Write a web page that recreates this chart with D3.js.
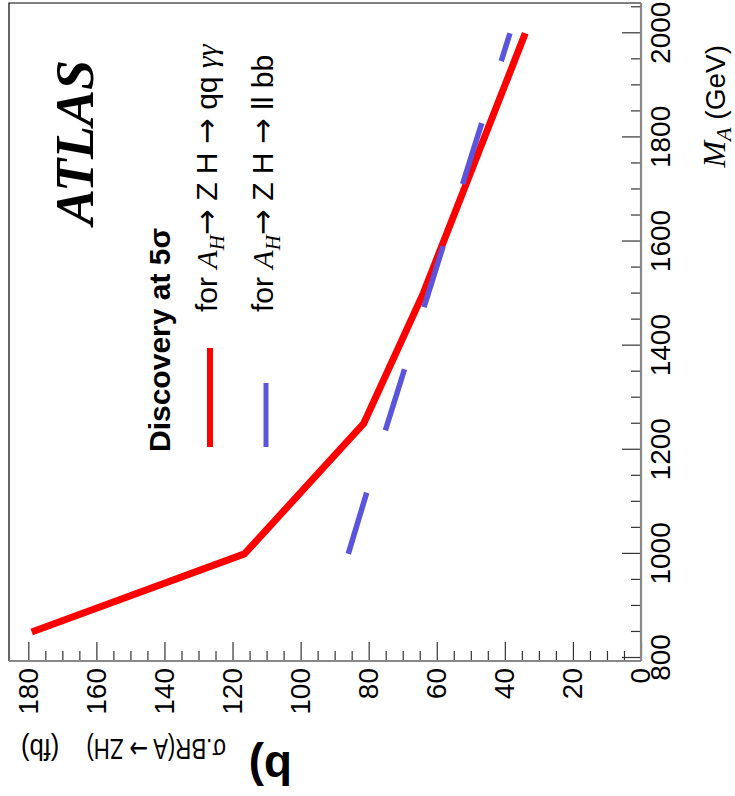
<!DOCTYPE html>
<html>
<head>
<meta charset="utf-8">
<script src="https://cdn.jsdelivr.net/npm/d3@7"></script>
<style>
  body { margin: 0; background: #fff; }
  text { font-family: "Liberation Sans", Arial, Helvetica, sans-serif; fill: #000; }
  .serif { font-family: "Liberation Serif", "Times New Roman", serif; }
  .arrow { font-family: "DejaVu Sans", sans-serif; }
</style>
</head>
<body>
<svg id="chart" width="735" height="796"></svg>
<script>
// A_H -> Z H -> q q gamma gamma : 5 sigma discovery reach (fb) vs M_A (GeV)
const massQQGG  = [850, 1000, 1250, 1500, 2000];
const sigmaQQGG = [179, 116.5, 81.5, 64, 34];

// A_H -> Z H -> l l b b : 5 sigma discovery reach (fb) vs M_A (GeV)
const massLLBB  = [1000, 1250, 1500, 1750, 2000];
const sigmaLLBB = [86, 74.5, 62.5, 50.5, 38.5];

// axis ticks
const massTicks       = [800, 1000, 1200, 1400, 1600, 1800, 2000];
const massMinorTicks  = [850, 900, 950, 1050, 1100, 1150, 1250, 1300, 1350, 1450, 1500, 1550,
                         1650, 1700, 1750, 1850, 1900, 1950, 2050];
const sigmaTicks      = [0, 20, 40, 60, 80, 100, 120, 140, 160, 180];
const sigmaMinorTicks = [5, 10, 15, 25, 30, 35, 45, 50, 55, 65, 70, 75, 85, 90, 95, 105, 110, 115,
                         125, 130, 135, 145, 150, 155, 165, 170, 175];

const seriesColors = ["#ff0000", "#5a55dc"];

// The plot is laid out as an ordinary x/y frame, then the whole frame is
// turned a quarter turn counter-clockwise (M_A runs upward along the right edge).
const W = 658, H = 632;
const x = d3.scaleLinear().domain([800, 2000]).range([3, 627.7]);
const y = d3.scaleLinear().domain([0, 180]).range([H, 19.3]);

const svg = d3.select("#chart");
const g = svg.append("g").attr("transform", "translate(9,661) rotate(-90)");

// frame (top/right sides of the unrotated frame)
g.append("path")
  .attr("d", `M0,0H${W}V${H}`)
  .attr("fill", "none").attr("stroke", "#000").attr("stroke-width", 1.2);

// M_A axis
g.append("g").attr("transform", `translate(0,${H})`)
  .call(d3.axisBottom(x).tickValues(massTicks).tickSizeInner(-19).tickSizeOuter(0)
        .tickPadding(9).tickFormat(d3.format("d")));
g.append("g").attr("transform", `translate(0,${H})`)
  .call(d3.axisBottom(x).tickValues(massMinorTicks).tickSizeInner(-10).tickSizeOuter(0).tickFormat(""))
  .select(".domain").remove();

// sigma axis
g.append("g")
  .call(d3.axisLeft(y).tickValues(sigmaTicks).tickSizeInner(-19).tickSizeOuter(0)
        .tickPadding(7).tickFormat(d3.format("d")));
g.append("g")
  .call(d3.axisLeft(y).tickValues(sigmaMinorTicks).tickSizeInner(-10).tickSizeOuter(0).tickFormat(""))
  .select(".domain").remove();

g.selectAll(".tick line").attr("stroke", "#333").attr("stroke-width", 1.2);
g.selectAll(".domain").remove();
g.append("path").attr("d", `M0,${H}H${W}`).attr("stroke", "#888").attr("stroke-width", 2.2);
g.append("path").attr("d", `M0,0V${H}`).attr("stroke", "#888").attr("stroke-width", 2.2);
g.selectAll(".tick text")
  .style("font-family", '"Liberation Sans", Arial, sans-serif')
  .style("font-size", "28px").attr("fill", "#000");

// curves
const line = d3.line().x(d => x(d[0])).y(d => y(d[1]));
g.append("path")
  .datum(d3.zip(massQQGG, sigmaQQGG))
  .attr("d", line)
  .attr("fill", "none").attr("stroke", seriesColors[0]).attr("stroke-width", 7)
  .attr("stroke-linejoin", "round");
g.append("path")
  .datum(d3.zip(massLLBB, sigmaLLBB))
  .attr("d", line)
  .attr("fill", "none").attr("stroke", seriesColors[1]).attr("stroke-width", 5.5)
  .attr("stroke-dasharray", "64,65");

// ATLAS label
g.append("text").attr("class", "serif")
  .attr("x", 436).attr("y", 84)
  .style("font-size", "54px").style("font-weight", "bold").style("font-style", "italic")
  .text("ATLAS");

// legend
g.append("text").attr("x", 209).attr("y", 161)
  .style("font-size", "30px").style("font-weight", "bold")
  .text("Discovery at 5σ");

const legendRows = [
  { v: 208, tail: "qq ", greek: "γγ" },
  { v: 264, tail: "ll bb", greek: "" }
];
legendRows.forEach((row, i) => {
  g.append("line")
    .attr("x1", 214).attr("x2", 313)
    .attr("y1", row.v - 7).attr("y2", row.v - 7)
    .attr("stroke", seriesColors[i]).attr("stroke-width", i === 0 ? 6 : 5)
    .attr("stroke-dasharray", i === 0 ? null : "64,65");
  const t = g.append("text").attr("x", 349).attr("y", row.v).style("font-size", "30px");
  t.append("tspan").text("for ");
  t.append("tspan").attr("class", "serif").style("font-style", "italic").text("A");
  t.append("tspan").attr("class", "serif").style("font-style", "italic")
    .style("font-size", "21px").attr("dy", 7).text("H");
  t.append("tspan").attr("class", "arrow").attr("dy", -7).style("font-size", "31px").text("→");
  t.append("tspan").text(" Z H ");
  t.append("tspan").attr("class", "arrow").style("font-size", "31px").text("→");
  t.append("tspan").text(" " + row.tail);
  if (row.greek) t.append("tspan").attr("class", "serif").style("font-style", "italic").text(row.greek);
});

// M_A axis title
const xt = g.append("text").attr("x", 616).attr("y", 716)
  .attr("text-anchor", "end").style("font-size", "28px");
xt.append("tspan").attr("class", "serif").style("font-style", "italic")
  .style("font-size", "32px").text("M");
xt.append("tspan").attr("class", "serif").style("font-style", "italic")
  .style("font-size", "22px").attr("dy", 6).text("A");
xt.append("tspan").attr("dy", -6).text("  (GeV)");

// sigma axis title
const yt = g.append("text")
  .attr("transform", "translate(-78,217) rotate(-90) scale(0.74,1)")
  .style("font-size", "30px");
yt.append("tspan").text("σ.BR(A ");
yt.append("tspan").attr("class", "arrow").text("→");
yt.append("tspan").text(" ZH)");
g.append("text")
  .attr("transform", "translate(-78,12) rotate(-90) scale(0.85,1)")
  .attr("text-anchor", "end")
  .style("font-size", "30px")
  .text("(fb)");

// panel tag
g.append("text")
  .attr("transform", "translate(-91,283) rotate(-90)")
  .style("font-size", "46px").style("font-weight", "bold")
  .text("b)");
</script>
</body>
</html>
